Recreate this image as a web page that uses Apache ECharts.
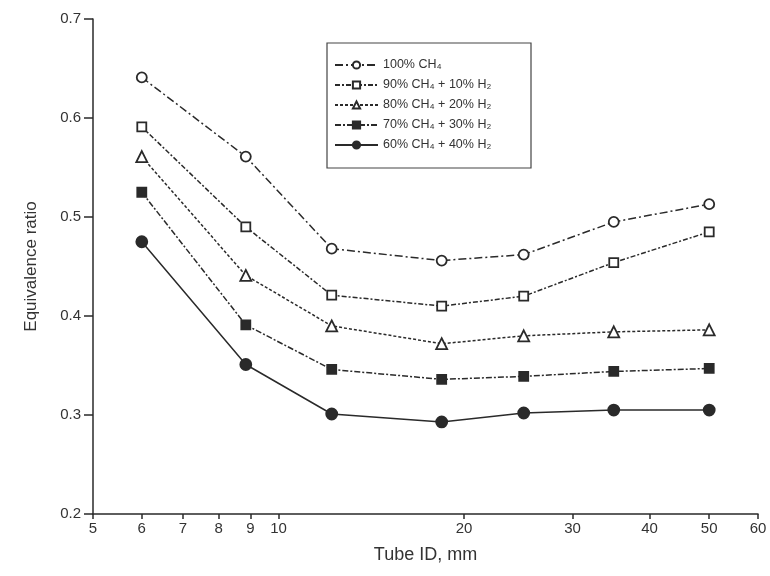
<!DOCTYPE html>
<html>
<head>
<meta charset="utf-8">
<script src="https://cdn.jsdelivr.net/npm/echarts@6/dist/echarts.min.js"></script>
<style>html,body{margin:0;padding:0;background:#fff}#chart{width:770px;height:576px}</style>
</head>
<body>
<div id="chart"></div>
<script>
const tubeID = [6, 8.85, 12.2, 18.4, 25, 35, 50];
const ch100 = [0.641, 0.561, 0.468, 0.456, 0.462, 0.495, 0.513];
const ch90 = [0.591, 0.490, 0.421, 0.410, 0.420, 0.454, 0.485];
const ch80 = [0.561, 0.441, 0.390, 0.372, 0.380, 0.384, 0.386];
const ch70 = [0.525, 0.391, 0.346, 0.336, 0.339, 0.344, 0.347];
const ch60 = [0.475, 0.351, 0.301, 0.293, 0.302, 0.305, 0.305];
const xTicks = [5, 6, 7, 8, 9, 10, 20, 30, 40, 50, 60];
const seriesNames = ['100% CH₄', '90% CH₄ + 10% H₂', '80% CH₄ + 20% H₂', '70% CH₄ + 30% H₂', '60% CH₄ + 40% H₂'];

const seriesData = [ch100, ch90, ch80, ch70, ch60];
const symbols = ['circle', 'rect', 'triangle', 'rect', 'circle'];
const hollow = [true, true, true, false, false];
const sizes = [10, 9, 11, 9, 11];
const dashes = [[8, 3, 2, 3], [5, 2, 2, 2], [3, 2], [6, 2, 2, 2], 'solid'];
const ink = '#2a2a2a';

const chart = echarts.init(document.getElementById('chart'), null, {renderer: 'canvas'});
chart.setOption({
  animation: false,
  backgroundColor: '#fff',
  textStyle: {fontFamily: 'Liberation Sans, Arial, sans-serif'},
  grid: {left: 93, right: 12, top: 19, bottom: 62, containLabel: false},
  legend: {
    left: 327, top: 43, orient: 'vertical',
    padding: [15, 8, 16, 7],
    itemGap: 6, itemWidth: 43, itemHeight: 9,
    borderColor: '#444', borderWidth: 1.2,
    textStyle: {fontSize: 12.5, color: '#333', width: 140, lineHeight: 14},
    data: seriesNames
  },
  xAxis: {
    type: 'log', logBase: 10, min: 5, max: 60,
    name: 'Tube ID, mm', nameLocation: 'middle', nameGap: 32,
    nameTextStyle: {fontSize: 18, color: '#333'},
    axisLine: {show: true, lineStyle: {color: ink, width: 1.5}},
    axisTick: {show: true, inside: false, length: 5, customValues: xTicks, lineStyle: {color: ink, width: 1.5}},
    axisLabel: {customValues: xTicks, fontSize: 15, color: '#333', margin: 7, formatter: v => String(Math.round(v))},
    splitLine: {show: false},
    minorTick: {show: false}
  },
  yAxis: {
    type: 'value', min: 0.2, max: 0.7, interval: 0.1,
    name: 'Equivalence ratio', nameLocation: 'middle', nameGap: 53,
    nameTextStyle: {fontSize: 17, color: '#333'},
    axisLine: {show: true, lineStyle: {color: ink, width: 1.5}},
    axisTick: {show: true, inside: false, length: 9, lineStyle: {color: ink, width: 1.5}},
    axisLabel: {fontSize: 15, color: '#333', margin: 12, formatter: v => v.toFixed(1)},
    splitLine: {show: false}
  },
  series: seriesData.map((d, i) => ({
    name: seriesNames[i],
    type: 'line',
    data: tubeID.map((x, j) => [x, d[j]]),
    symbol: symbols[i],
    symbolSize: sizes[i],
    showAllSymbol: true,
    lineStyle: {color: ink, width: 1.5, type: dashes[i]},
    itemStyle: {color: hollow[i] ? '#fff' : ink, borderColor: ink, borderWidth: 1.8},
    emphasis: {disabled: true}
  }))
});
</script>
</body>
</html>
